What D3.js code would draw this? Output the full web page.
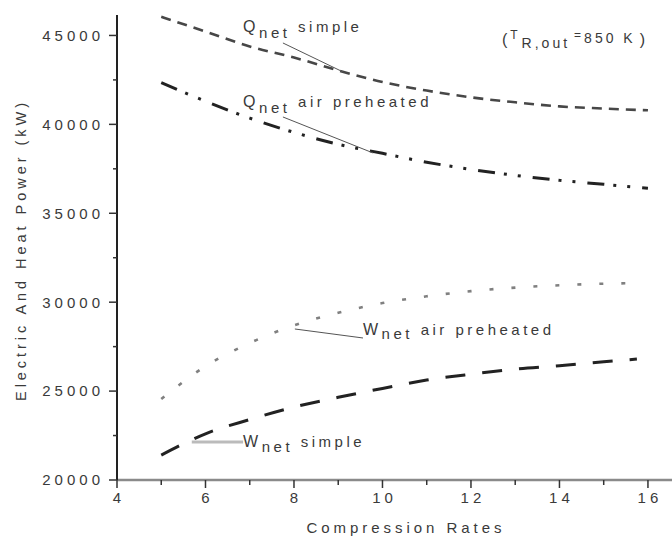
<!DOCTYPE html>
<html>
<head>
<meta charset="utf-8">
<script src="https://cdn.jsdelivr.net/npm/d3@7"></script>
<style>
  body { margin: 0; background: #fff; overflow: hidden; }
  svg { display: block; }
  text { font-family: Arial, "Liberation Sans", sans-serif; fill: #3a3a3a; }
</style>
</head>
<body>
<div id="chart"></div>
<script>
// values
const rates = [5, 6, 7, 8, 9, 10, 11, 12, 13, 14, 15, 16];
const ratesW = [5, 6, 7, 8, 9, 10, 11, 12, 13, 14, 15, 15.75];

const qnetSimple = [46050, 45220, 44380, 43760, 43030, 42380, 41900, 41520, 41240, 41010, 40890, 40790];
const qnetAir = [42350, 41300, 40350, 39550, 38880, 38370, 37870, 37470, 37130, 36850, 36630, 36400];
const wnetAir = [24550, 26400, 27700, 28700, 29400, 29950, 30330, 30620, 30820, 30950, 31040, 31070];
const wnetSimple = [21400, 22600, 23400, 24100, 24650, 25150, 25620, 25950, 26230, 26430, 26650, 26800];

const xMajor = [4, 6, 8, 10, 12, 14, 16];
const xMinor = [5, 7, 9, 11, 13, 15];
const yMajor = [20000, 25000, 30000, 35000, 40000, 45000];
const yMinor = [22500, 27500, 32500, 37500, 42500];

const width = 672, height = 536;

const svg = d3.select("#chart")
  .append("svg")
  .attr("width", width)
  .attr("height", height);

const x = d3.scaleLinear().domain([4, 16.6]).range([117, 674.5]);
const y = d3.scaleLinear().domain([20000, 46150]).range([480, 15]);

// x axis
const xAxis = svg.append("g").attr("transform", `translate(0,${y(20000)})`);
xAxis.append("line")
  .attr("x1", x(4)).attr("x2", width)
  .attr("stroke", "#8a8a8a").attr("stroke-width", 2.5);
xAxis.selectAll(".maj").data(xMajor).join("line")
  .attr("x1", d => x(d)).attr("x2", d => x(d))
  .attr("y1", 0).attr("y2", 8)
  .attr("stroke", "#333").attr("stroke-width", 1.5);
xAxis.selectAll(".min").data(xMinor).join("line")
  .attr("x1", d => x(d)).attr("x2", d => x(d))
  .attr("y1", 0).attr("y2", 5)
  .attr("stroke", "#333").attr("stroke-width", 1.5);
xAxis.selectAll("text").data(xMajor).join("text")
  .attr("x", d => x(d) + 2)
  .attr("y", 23)
  .attr("text-anchor", "middle")
  .style("font-size", "15px")
  .style("letter-spacing", "4px")
  .text(d => d);

// y axis
const yAxis = svg.append("g").attr("transform", `translate(${x(4)},0)`);
yAxis.append("line")
  .attr("y1", y(46150)).attr("y2", y(20000))
  .attr("stroke", "#222").attr("stroke-width", 2);
yAxis.selectAll(".maj").data(yMajor).join("line")
  .attr("y1", d => y(d)).attr("y2", d => y(d))
  .attr("x1", 0).attr("x2", -8)
  .attr("stroke", "#333").attr("stroke-width", 1.5);
yAxis.selectAll(".min").data(yMinor).join("line")
  .attr("y1", d => y(d)).attr("y2", d => y(d))
  .attr("x1", 0).attr("x2", -4)
  .attr("stroke", "#333").attr("stroke-width", 1.5);
yAxis.selectAll("text").data(yMajor).join("text")
  .attr("x", -13)
  .attr("y", d => y(d))
  .attr("dy", "0.36em")
  .attr("text-anchor", "end")
  .style("font-size", "15px")
  .style("letter-spacing", "4px")
  .text(d => d);

// axis titles
svg.append("text")
  .attr("x", 404)
  .attr("y", 533)
  .attr("text-anchor", "middle")
  .attr("textLength", 195)
  .attr("lengthAdjust", "spacing")
  .style("font-size", "15px")
  .text("Compression Rates");

svg.append("text")
  .attr("transform", "translate(26,252) rotate(-90)")
  .attr("text-anchor", "middle")
  .attr("textLength", 298)
  .attr("lengthAdjust", "spacing")
  .style("font-size", "14.5px")
  .text("Electric And Heat Power (kW)");

// curves
const series = [
  { xs: rates, ys: qnetSimple, color: "#474747", w: 2.6, dash: "10,7" },
  { xs: rates, ys: qnetAir, color: "#222", w: 3, dash: "17,9,3,11,3,12" },
  { xs: ratesW, ys: wnetAir, color: "#808080", w: 2.6, dash: "4,18" },
  { xs: ratesW, ys: wnetSimple, color: "#222", w: 3, dash: "20,17" }
];

const line = d3.line()
  .x(d => x(d[0]))
  .y(d => y(d[1]))
  .curve(d3.curveMonotoneX);

svg.append("g")
  .selectAll("path")
  .data(series)
  .join("path")
  .attr("d", s => line(s.xs.map((v, i) => [v, s.ys[i]])))
  .attr("fill", "none")
  .attr("stroke", s => s.color)
  .attr("stroke-width", s => s.w)
  .attr("stroke-dasharray", s => s.dash);

// annotations (positions in data units)
const labels = [
  { name: "Q", sub: "net", rest: " simple", at: [6.85, 45195], subDy: 6, from: [7.75, 44577], to: [9.11, 42946], lc: "#555", lw: 1 },
  { name: "Q", sub: "net", rest: " air preheated", at: [6.85, 40977], subDy: 6, from: [7.75, 40415], to: [9.79, 38390], lc: "#555", lw: 1 },
  { name: "W", sub: "net", rest: " air preheated", at: [9.56, 28155], subDy: 4, from: [9.56, 27986], to: [8.02, 28492], lc: "#555", lw: 1 },
  { name: "W", sub: "net", rest: " simple", at: [6.85, 21856], subDy: 5, from: [6.85, 22137], to: [5.69, 22137], lc: "#bbb", lw: 3 }
];

const ann = svg.append("g");
ann.selectAll("line")
  .data(labels)
  .join("line")
  .attr("x1", d => x(d.from[0])).attr("y1", d => y(d.from[1]))
  .attr("x2", d => x(d.to[0])).attr("y2", d => y(d.to[1]))
  .attr("stroke", d => d.lc)
  .attr("stroke-width", d => d.lw);

const lt = ann.selectAll("text")
  .data(labels)
  .join("text")
  .attr("x", d => x(d.at[0]))
  .attr("y", d => y(d.at[1]))
  .style("letter-spacing", "3.5px");
lt.append("tspan").style("font-size", "16px").text(d => d.name);
lt.append("tspan").style("font-size", "15px").attr("dy", d => d.subDy).text(d => d.sub);
lt.append("tspan").style("font-size", "15px").attr("dy", d => -d.subDy).text(d => d.rest);

// (T R,out = 850 K) note
const note = svg.append("text")
  .attr("x", x(12.7))
  .attr("y", y(44464))
  .style("letter-spacing", "3px");
note.append("tspan").style("font-size", "16px").text("(");
note.append("tspan").style("font-size", "12px").attr("dy", -6).text("T");
note.append("tspan").style("font-size", "14px").attr("dx", 1).attr("dy", 9).text("R,out");
note.append("tspan").style("font-size", "12px").attr("dx", 4).attr("dy", -9).text("=");
note.append("tspan").style("font-size", "14px").attr("dy", 4).text("850 K");
note.append("tspan").style("font-size", "16px").attr("dx", 4).attr("dy", 2).text(")");
</script>
</body>
</html>
